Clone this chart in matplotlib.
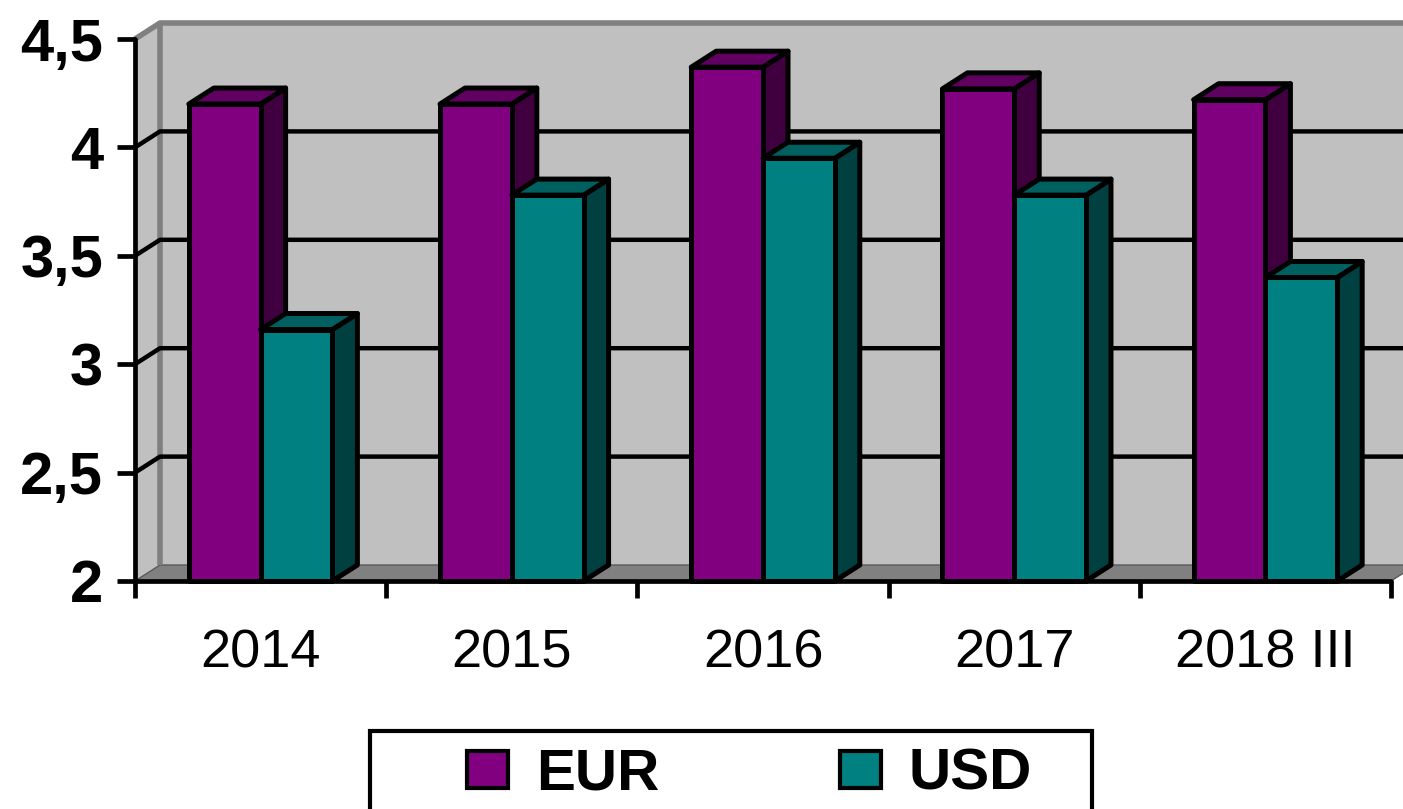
import matplotlib
matplotlib.use('Agg')
import matplotlib.pyplot as plt
from matplotlib.patches import Polygon, Patch, Rectangle
import numpy as np

# ---- data ----
categories = ['2014', '2015', '2016', '2017', '2018 III']
eur = [4.20, 4.20, 4.37, 4.27, 4.22]
usd = [3.16, 3.78, 3.95, 3.78, 3.40]
series_names = ['EUR', 'USD']
y_ticks = [2, 2.5, 3, 3.5, 4, 4.5]
y_tick_labels = ['2', '2,5', '3', '3,5', '4', '4,5']

# ---- style ----
plt.rcParams['font.family'] = ['Liberation Sans', 'DejaVu Sans']
front_cols = ['#800080', '#008080']
top_cols = ['#600060', '#006060']
side_cols = ['#400040', '#004040']
wall_col = '#C0C0C0'
wall_edge = '#808080'
floor_col = '#808080'

W, H = 1403, 809
fig = plt.figure(figsize=(W / 100, H / 100), dpi=100)
L, R, B, T = 135, 1391, 581, 39
ax = fig.add_axes([L / W, 1 - B / H, (R - L) / W, (B - T) / H])
n = len(categories)
xmin, xmax = -0.5, n - 0.5
ymin, ymax = 2, 4.5
ax.set_xlim(xmin, xmax)
ax.set_ylim(ymin, ymax)
ax.patch.set_visible(False)

# depth offset (pixels -> data units)
dx = 25 * (xmax - xmin) / (R - L)
dy = 16 * (ymax - ymin) / (B - T)

# back wall
ax.add_patch(Polygon([(xmin + dx, ymin + dy), (xmax + dx, ymin + dy),
                      (xmax + dx, ymax + dy), (xmin + dx, ymax + dy)],
                     closed=True, fc=wall_col, ec='none', zorder=0.5, clip_on=False))
# left wall
ax.add_patch(Polygon([(xmin, ymin), (xmin, ymax), (xmin + dx, ymax + dy), (xmin + dx, ymin + dy)],
                     closed=True, fc=wall_col, ec='none', zorder=0.5, clip_on=False))
# floor
ax.add_patch(Polygon([(xmin, ymin), (xmax, ymin), (xmax + dx, ymin + dy), (xmin + dx, ymin + dy)],
                     closed=True, fc=floor_col, ec='#5a5a5a', lw=1.0, zorder=0.6, clip_on=False))
# wall borders (gray)
ax.plot([xmin + dx, xmin + dx, xmax + dx], [ymin + dy, ymax + dy, ymax + dy],
        color=wall_edge, lw=4.0, zorder=0.7, clip_on=False, solid_capstyle='butt')
ax.plot([xmin, xmin + dx], [ymax, ymax + dy], color=wall_edge, lw=4.0, zorder=0.7,
        clip_on=False, solid_capstyle='butt')

# gridlines
for v in y_ticks[1:-1]:
    ax.plot([xmin, xmin + dx, xmax + dx], [v, v + dy, v + dy], color='black', lw=3.2,
            zorder=0.8, clip_on=False, solid_capstyle='butt')

# bars
bw = 1 / 3.5
gap = 0.75 * bw
ec = 'black'
elw = 3.6
for i in range(n):
    for s, vals in enumerate([eur, usd]):
        v = vals[i]
        x0 = i - 0.5 + gap + s * bw
        x1 = x0 + bw
        z = 2 + i * 0.1 + s * 0.01
        ax.add_patch(Polygon([(x1, ymin), (x1 + dx, ymin + dy), (x1 + dx, v + dy), (x1, v)],
                             closed=True, fc=side_cols[s], ec=ec, lw=elw, joinstyle='round',
                             zorder=z, clip_on=False))
        ax.add_patch(Polygon([(x0, v), (x1, v), (x1 + dx, v + dy), (x0 + dx, v + dy)],
                             closed=True, fc=top_cols[s], ec=ec, lw=elw, joinstyle='round',
                             zorder=z, clip_on=False))
        ax.add_patch(Polygon([(x0, ymin), (x1, ymin), (x1, v), (x0, v)],
                             closed=True, fc=front_cols[s], ec=ec, lw=elw, joinstyle='round',
                             zorder=z, clip_on=False))

# axes / spines
for sp in ['top', 'right']:
    ax.spines[sp].set_visible(False)
for sp in ['left', 'bottom']:
    ax.spines[sp].set_linewidth(3.4)
    ax.spines[sp].set_color('black')
    ax.spines[sp].set_zorder(5)
    ax.spines[sp].set_capstyle('round')

ax.set_yticks(y_ticks)
ax.set_yticklabels(y_tick_labels, fontsize=43, fontweight='bold')
ax.tick_params(axis='y', which='major', direction='out', length=13, width=3.4, pad=10, color='black')

ax.set_xticks(np.arange(xmin, xmax + 0.01, 1))
ax.set_xticklabels([])
ax.set_xticks(np.arange(n), minor=True)
ax.set_xticklabels(categories, minor=True, fontsize=39)
ax.tick_params(axis='x', which='major', direction='out', length=12.5, width=3.4, color='black')
ax.tick_params(axis='x', which='minor', length=0, pad=34)

# legend box
fig.add_artist(Rectangle((370 / W, 1 - 840 / H), (1092 - 370) / W, (840 - 731) / H,
                         transform=fig.transFigure, fc='white', ec='black', lw=3.0))
handles = [Patch(fc=front_cols[k], ec='black', lw=3.0, joinstyle='round') for k in range(2)]
leg = fig.legend(handles=handles, labels=series_names, loc='center left',
                 bbox_to_anchor=(467 / W, 1 - 775 / H), frameon=False, ncol=2,
                 prop={'weight': 'bold', 'size': 42}, handlelength=0.7, handleheight=0.62,
                 handletextpad=0.48, columnspacing=3.1, borderpad=0, borderaxespad=0)
leg.set_zorder(10)

fig.savefig('out.png', dpi=100)
